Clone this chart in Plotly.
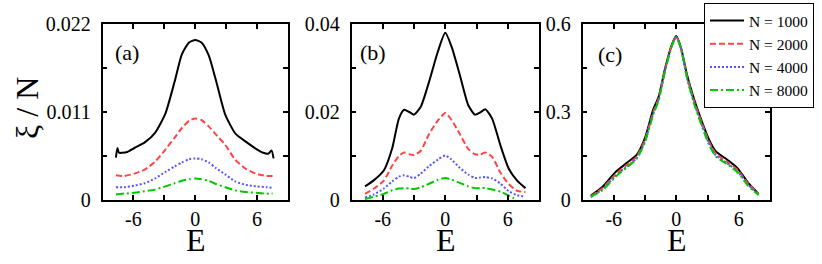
import plotly.graph_objects as go

# ---------------- data ----------------
labels = ["N = 1000", "N = 2000", "N = 4000", "N = 8000"]

# panel (a)
E_a_black = [-7.7, -7.55, -7.4, -7.1, -6.6, -5.9, -4.9, -3.9, -2.9, -2.0, -1.3, -0.6, 0.0,
             0.6, 1.3, 2.0, 2.9, 3.9, 4.9, 5.9, 6.6, 7.1, 7.4, 7.6]
a_black = [0.0053, 0.0065, 0.0059, 0.0059, 0.0060, 0.0065, 0.0072, 0.0084, 0.0108, 0.0148,
           0.0182, 0.0197, 0.0200, 0.0197, 0.0181, 0.0150, 0.0107, 0.0083, 0.0073, 0.0064,
           0.0059, 0.0058, 0.0062, 0.0052]
E_a = [-7.7, -6.9, -5.9, -4.9, -3.9, -2.9, -2.0, -1.3, -0.6, 0.0, 0.6, 1.3, 2.0, 2.9, 3.9,
       4.9, 5.9, 6.9, 7.5]
a_red = [0.0031, 0.0030, 0.0033, 0.0038, 0.0048, 0.0063, 0.0078, 0.0090, 0.0099, 0.0102,
         0.0100, 0.0092, 0.0082, 0.0069, 0.0050, 0.0039, 0.0033, 0.0030, 0.0030]
a_blue = [0.0016, 0.0016, 0.0018, 0.0021, 0.0027, 0.0035, 0.0042, 0.0047, 0.0051, 0.0052,
          0.0051, 0.0047, 0.0040, 0.0032, 0.0023, 0.0019, 0.0017, 0.0016, 0.0015]
a_green = [0.0007, 0.0008, 0.0009, 0.0011, 0.0013, 0.0017, 0.0021, 0.0024, 0.0026, 0.0027,
           0.0026, 0.0024, 0.0020, 0.0016, 0.0012, 0.0010, 0.0009, 0.0008, 0.0008]

# panel (b)
E_b = [-7.7, -6.9, -5.9, -5.1, -4.45, -3.95, -3.45, -3.0, -2.35, -1.55, -0.7, 0.0, 0.6, 1.4,
       2.2, 2.85, 3.35, 3.85, 4.5, 5.3, 6.1, 6.9, 7.7]
b_black = [0.0031, 0.0044, 0.0067, 0.0117, 0.0185, 0.0205, 0.0200, 0.0194, 0.0212, 0.0269,
           0.0338, 0.0380, 0.0349, 0.0284, 0.0216, 0.0194, 0.0199, 0.0206, 0.0185, 0.0124,
           0.0071, 0.0044, 0.0027]
b_red = [0.0014, 0.0025, 0.0044, 0.0078, 0.0100, 0.0108, 0.0104, 0.0102, 0.0112, 0.0150,
         0.0181, 0.0198, 0.0182, 0.0150, 0.0116, 0.0104, 0.0103, 0.0108, 0.0098, 0.0062,
         0.0036, 0.0021, 0.0018]
b_blue = [0.0006, 0.0012, 0.0026, 0.0042, 0.0053, 0.0056, 0.0053, 0.0050, 0.0060, 0.0077,
          0.0092, 0.0101, 0.0092, 0.0073, 0.0058, 0.0050, 0.0051, 0.0052, 0.0049, 0.0037,
          0.0020, 0.0011, 0.0008]
E_b_green = [-7.7, -6.9, -5.9, -5.1, -4.45, -3.95, -3.45, -3.0, -2.35, -1.55, -0.7, 0.0, 0.6,
             1.4, 2.2, 2.85, 3.35, 3.85, 4.5, 5.3, 6.1, 6.6]
b_green = [0.0002, 0.0007, 0.0014, 0.0022, 0.0026, 0.0027, 0.0026, 0.0025, 0.0029, 0.0037,
           0.0046, 0.0050, 0.0046, 0.0039, 0.0031, 0.0027, 0.0027, 0.0027, 0.0024, 0.0019,
           0.0010, 0.0004]

# panel (c)
E_c = [-8.2, -7.1, -5.8, -4.8, -3.8, -3.0, -2.2, -1.7, -1.07, -0.42, 0.0, 0.45, 1.04, 1.7,
       2.5, 3.15, 3.8, 4.9, 5.9, 6.85, 7.9]
c_black = [0.015, 0.044, 0.096, 0.125, 0.154, 0.212, 0.310, 0.351, 0.449, 0.530, 0.559, 0.520,
           0.426, 0.345, 0.264, 0.206, 0.166, 0.137, 0.108, 0.061, 0.021]
c_red = [0.013, 0.040, 0.088, 0.118, 0.148, 0.205, 0.300, 0.345, 0.445, 0.528, 0.557, 0.518,
         0.420, 0.338, 0.258, 0.198, 0.158, 0.130, 0.102, 0.058, 0.020]
c_blue = [0.010, 0.036, 0.083, 0.112, 0.143, 0.200, 0.295, 0.340, 0.442, 0.527, 0.556, 0.515,
          0.415, 0.332, 0.252, 0.192, 0.152, 0.125, 0.097, 0.054, 0.018]
c_green = [0.012, 0.033, 0.080, 0.110, 0.140, 0.198, 0.292, 0.338, 0.440, 0.526, 0.556, 0.517,
           0.418, 0.330, 0.248, 0.188, 0.148, 0.122, 0.094, 0.050, 0.017]

x_tickvals = [-6, -3, 0, 3, 6]
x_ticktext = ["-6", "", "0", "", "6"]
y_ticks_a = [0, 0.0055, 0.011, 0.0165, 0.022]
y_text_a = ["0", "", "0.011", "", "0.022"]
y_ticks_b = [0, 0.01, 0.02, 0.03, 0.04]
y_text_b = ["0", "", "0.02", "", "0.04"]
y_ticks_c = [0, 0.15, 0.3, 0.45, 0.6]
y_text_c = ["0", "", "0.3", "", "0.6"]

# ---------------- styles ----------------
W, H = 822, 264
FONT = "Liberation Serif, Times New Roman, serif"
styles = [
    dict(color="black", width=2, dash="solid"),
    dict(color="#ff4545", width=2, dash="6px,3px"),
    dict(color="#5555ff", width=2, dash="2px,2px"),
    dict(color="#00c800", width=2, dash="8px,3px,2px,3px"),
]

fig = go.Figure()

panels = [
    ([E_a_black, E_a, E_a, E_a], [a_black, a_red, a_blue, a_green], "x", "y"),
    ([E_b, E_b, E_b, E_b_green], [b_black, b_red, b_blue, b_green], "x2", "y2"),
    ([E_c, E_c, E_c, E_c], [c_black, c_red, c_blue, c_green], "x3", "y3"),
]
for pi, (xs, ys, xa, ya) in enumerate(panels):
    for si in range(4):
        fig.add_trace(go.Scatter(
            x=xs[si], y=ys[si], mode="lines", name=labels[si],
            line=dict(shape="spline", smoothing=0.6, **styles[si]),
            xaxis=xa, yaxis=ya, showlegend=(pi == 2),
        ))

ydom = [(H - 200) / H, (H - 24) / H]
xdoms = [[102.5 / W, 288 / W], [351.5 / W, 539 / W], [582.5 / W, 770 / W]]
yticks = [(y_ticks_a, y_text_a, [0, 0.022]), (y_ticks_b, y_text_b, [0, 0.04]),
          (y_ticks_c, y_text_c, [0, 0.6])]

axis_common = dict(showline=True, linecolor="black", linewidth=1.5, mirror="ticks",
                   ticks="inside", ticklen=5, tickwidth=1.5, tickcolor="black",
                   showgrid=False, zeroline=False, automargin=False,
                   tickfont=dict(family=FONT, size=20, color="black"))

layout = dict(width=W, height=H, margin=dict(l=0, r=0, t=0, b=0, pad=0, autoexpand=False),
              paper_bgcolor="white", plot_bgcolor="white",
              font=dict(family=FONT, color="black"))
for i in range(3):
    sx = "xaxis" if i == 0 else f"xaxis{i+1}"
    sy = "yaxis" if i == 0 else f"yaxis{i+1}"
    anchor_y = "y" if i == 0 else f"y{i+1}"
    anchor_x = "x" if i == 0 else f"x{i+1}"
    layout[sx] = dict(domain=xdoms[i], range=[-9, 9], anchor=anchor_y,
                      tickmode="array", tickvals=x_tickvals, ticktext=x_ticktext,
                      ticklabelstandoff=0, **axis_common)
    tv, tt, rg = yticks[i]
    layout[sy] = dict(domain=ydom, range=rg, anchor=anchor_x,
                      tickmode="array", tickvals=tv, ticktext=tt,
                      ticklabelstandoff=6, **axis_common)

layout["legend"] = dict(x=704 / W, y=1 - 3 / H, xanchor="left", yanchor="top",
                        bgcolor="white", bordercolor="black", borderwidth=1,
                        font=dict(family=FONT, size=15.5, color="black"),
                        tracegroupgap=0, itemwidth=34)

ann = []
common_ann = dict(xref="paper", yref="paper", showarrow=False,
                  xanchor="center", yanchor="middle")
for txt, cx, cy in [("(a)", 126.7, 53), ("(b)", 373.3, 53), ("(c)", 610, 54)]:
    ann.append(dict(text=txt, x=cx / W, y=1 - cy / H,
                    font=dict(family=FONT, size=22, color="black"), **common_ann))
for cx in [195.7, 445.7, 677]:
    ann.append(dict(text="E", x=cx / W, y=1 - 240 / H,
                    font=dict(family=FONT, size=32, color="black"), **common_ann))
ann.append(dict(text="ξ / N", x=27 / W, y=1 - 108 / H, textangle=-90,
                font=dict(family=FONT, size=32, color="black"), **common_ann))
layout["annotations"] = ann

fig.update_layout(**layout)
fig.write_html("out.html", config={"displayModeBar": False},
               post_script="document.body.style.margin='0';")
